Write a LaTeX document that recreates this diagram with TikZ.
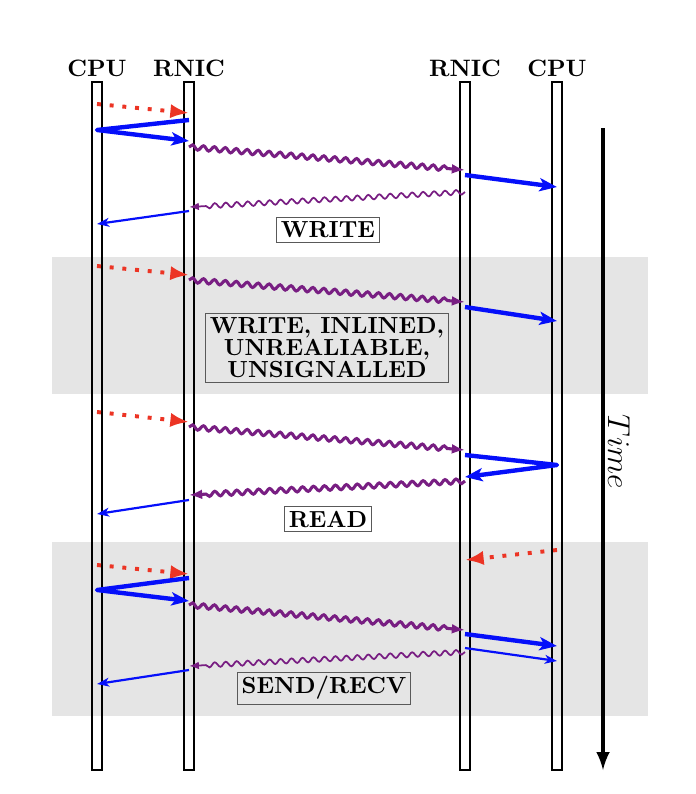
\documentclass[tikz,border=0pt]{standalone}
\usepackage{amsmath}
\usepackage{tikz}
\usetikzlibrary{decorations.pathmorphing,arrows,arrows.meta,calc}
\definecolor{reqred}{RGB}{236,52,36}
\definecolor{nicblue}{RGB}{5,15,250}
\definecolor{wirepurple}{RGB}{120,30,130}
\newcommand{\msg}[5]{\draw[#1] ($(#2)+(0,#3)$) -- ($(#4)+(0,#5)$);}

\begin{document}
\begin{tikzpicture}[x=0.016cm,y=-0.016cm,
	lane/.style={line width=0.6pt},
	head/.style={font=\bfseries\fontsize{10.8}{12}\selectfont},
	tag/.style={draw=black!65,font=\bfseries\fontsize{10.6}{11}\selectfont,inner sep=2pt,align=center},
	band/.style={fill=black!10},
	post/.style={reqred,line width=1.8pt,dash pattern=on 1.8pt off 4pt,-{Latex[length=8.5pt,width=6.5pt]}},
	bigmsg/.style={nicblue,line width=2pt,line join=round,-{Stealth[length=8pt,width=6pt,inset=2pt]}},
	smallmsg/.style={nicblue,line width=1pt,-{Stealth[length=5.5pt,width=4pt,inset=1.5pt]}},
	bigwire/.style={wirepurple,line width=1.4pt,-{Latex[length=6pt,width=4.5pt]},decorate,
		decoration={snake,amplitude=1.1pt,segment length=5pt,post length=2.5mm}},
	smallwire/.style={wirepurple,line width=0.8pt,-{Latex[length=4.5pt,width=3.5pt]},decorate,
		decoration={snake,amplitude=1.1pt,segment length=5pt,post length=2mm}}]
	\useasboundingbox (0,0) rectangle (696,794);
	\fill[band] (52,257) rectangle (648,394);
	\fill[band] (52,542) rectangle (648,716);
	\foreach \name/\x/\lbl in {cpuA/97/CPU,nicA/189/RNIC,nicB/465/RNIC,cpuB/557/CPU}{
		\coordinate (\name) at (\x,0);
		\draw[lane] (\x-5,82) rectangle (\x+5,770);
		\node[head] (\name-head) at (\x,68) {\lbl};}
	% write
	\msg{post}{cpuA}{104}{nicA}{113}
	\draw[bigmsg] ($(nicA)+(0,120)$) -- ($(cpuA)+(0,130)$) -- ($(nicA)+(0,141)$);
	\msg{bigwire}{nicA}{147}{nicB}{170}
	\msg{bigmsg}{nicB}{175}{cpuB}{187}
	\msg{smallwire}{nicB}{192}{nicA}{207}
	\msg{smallmsg}{nicA}{211}{cpuA}{224}
	\node[tag] (writeTag) at (328,230) {WRITE};
	% write, inlined
	\msg{post}{cpuA}{266}{nicA}{275}
	\msg{bigwire}{nicA}{280}{nicB}{302}
	\msg{bigmsg}{nicB}{307}{cpuB}{321}
	\node[tag] (inlineTag) at (327,348) {WRITE, INLINED,\\[-1pt] UNREALIABLE,\\[-1pt] UNSIGNALLED};
	% read
	\msg{post}{cpuA}{412}{nicA}{422}
	\msg{bigwire}{nicA}{427}{nicB}{450}
	\draw[bigmsg] ($(nicB)+(0,455)$) -- ($(cpuB)+(0,465)$) -- ($(nicB)+(0,477)$);
	\msg{bigwire}{nicB}{481}{nicA}{495}
	\msg{smallmsg}{nicA}{500}{cpuA}{514}
	\node[tag] (readTag) at (328,519) {READ};
	% send/recv
	\msg{post}{cpuA}{565}{nicA}{574}
	\msg{post}{cpuB}{550}{nicB}{560}
	\draw[bigmsg] ($(nicA)+(0,578)$) -- ($(cpuA)+(0,590)$) -- ($(nicA)+(0,601)$);
	\msg{bigwire}{nicA}{605}{nicB}{630}
	\msg{bigmsg}{nicB}{634}{cpuB}{646}
	\msg{smallmsg}{nicB}{648}{cpuB}{661}
	\msg{smallwire}{nicB}{652}{nicA}{666}
	\msg{smallmsg}{nicA}{670}{cpuA}{684}
	\node[tag] (sendTag) at (324,688) {SEND/RECV};
	% time axis
	\coordinate (timeTop) at (603,128);
	\coordinate (timeEnd) at (603,770);
	\draw[line width=1.8pt,-latex] (timeTop) -- (timeEnd);
	\node[rotate=-90] (timeLbl) at (619,452) {\Large $Time$};
\end{tikzpicture}
\end{document}
